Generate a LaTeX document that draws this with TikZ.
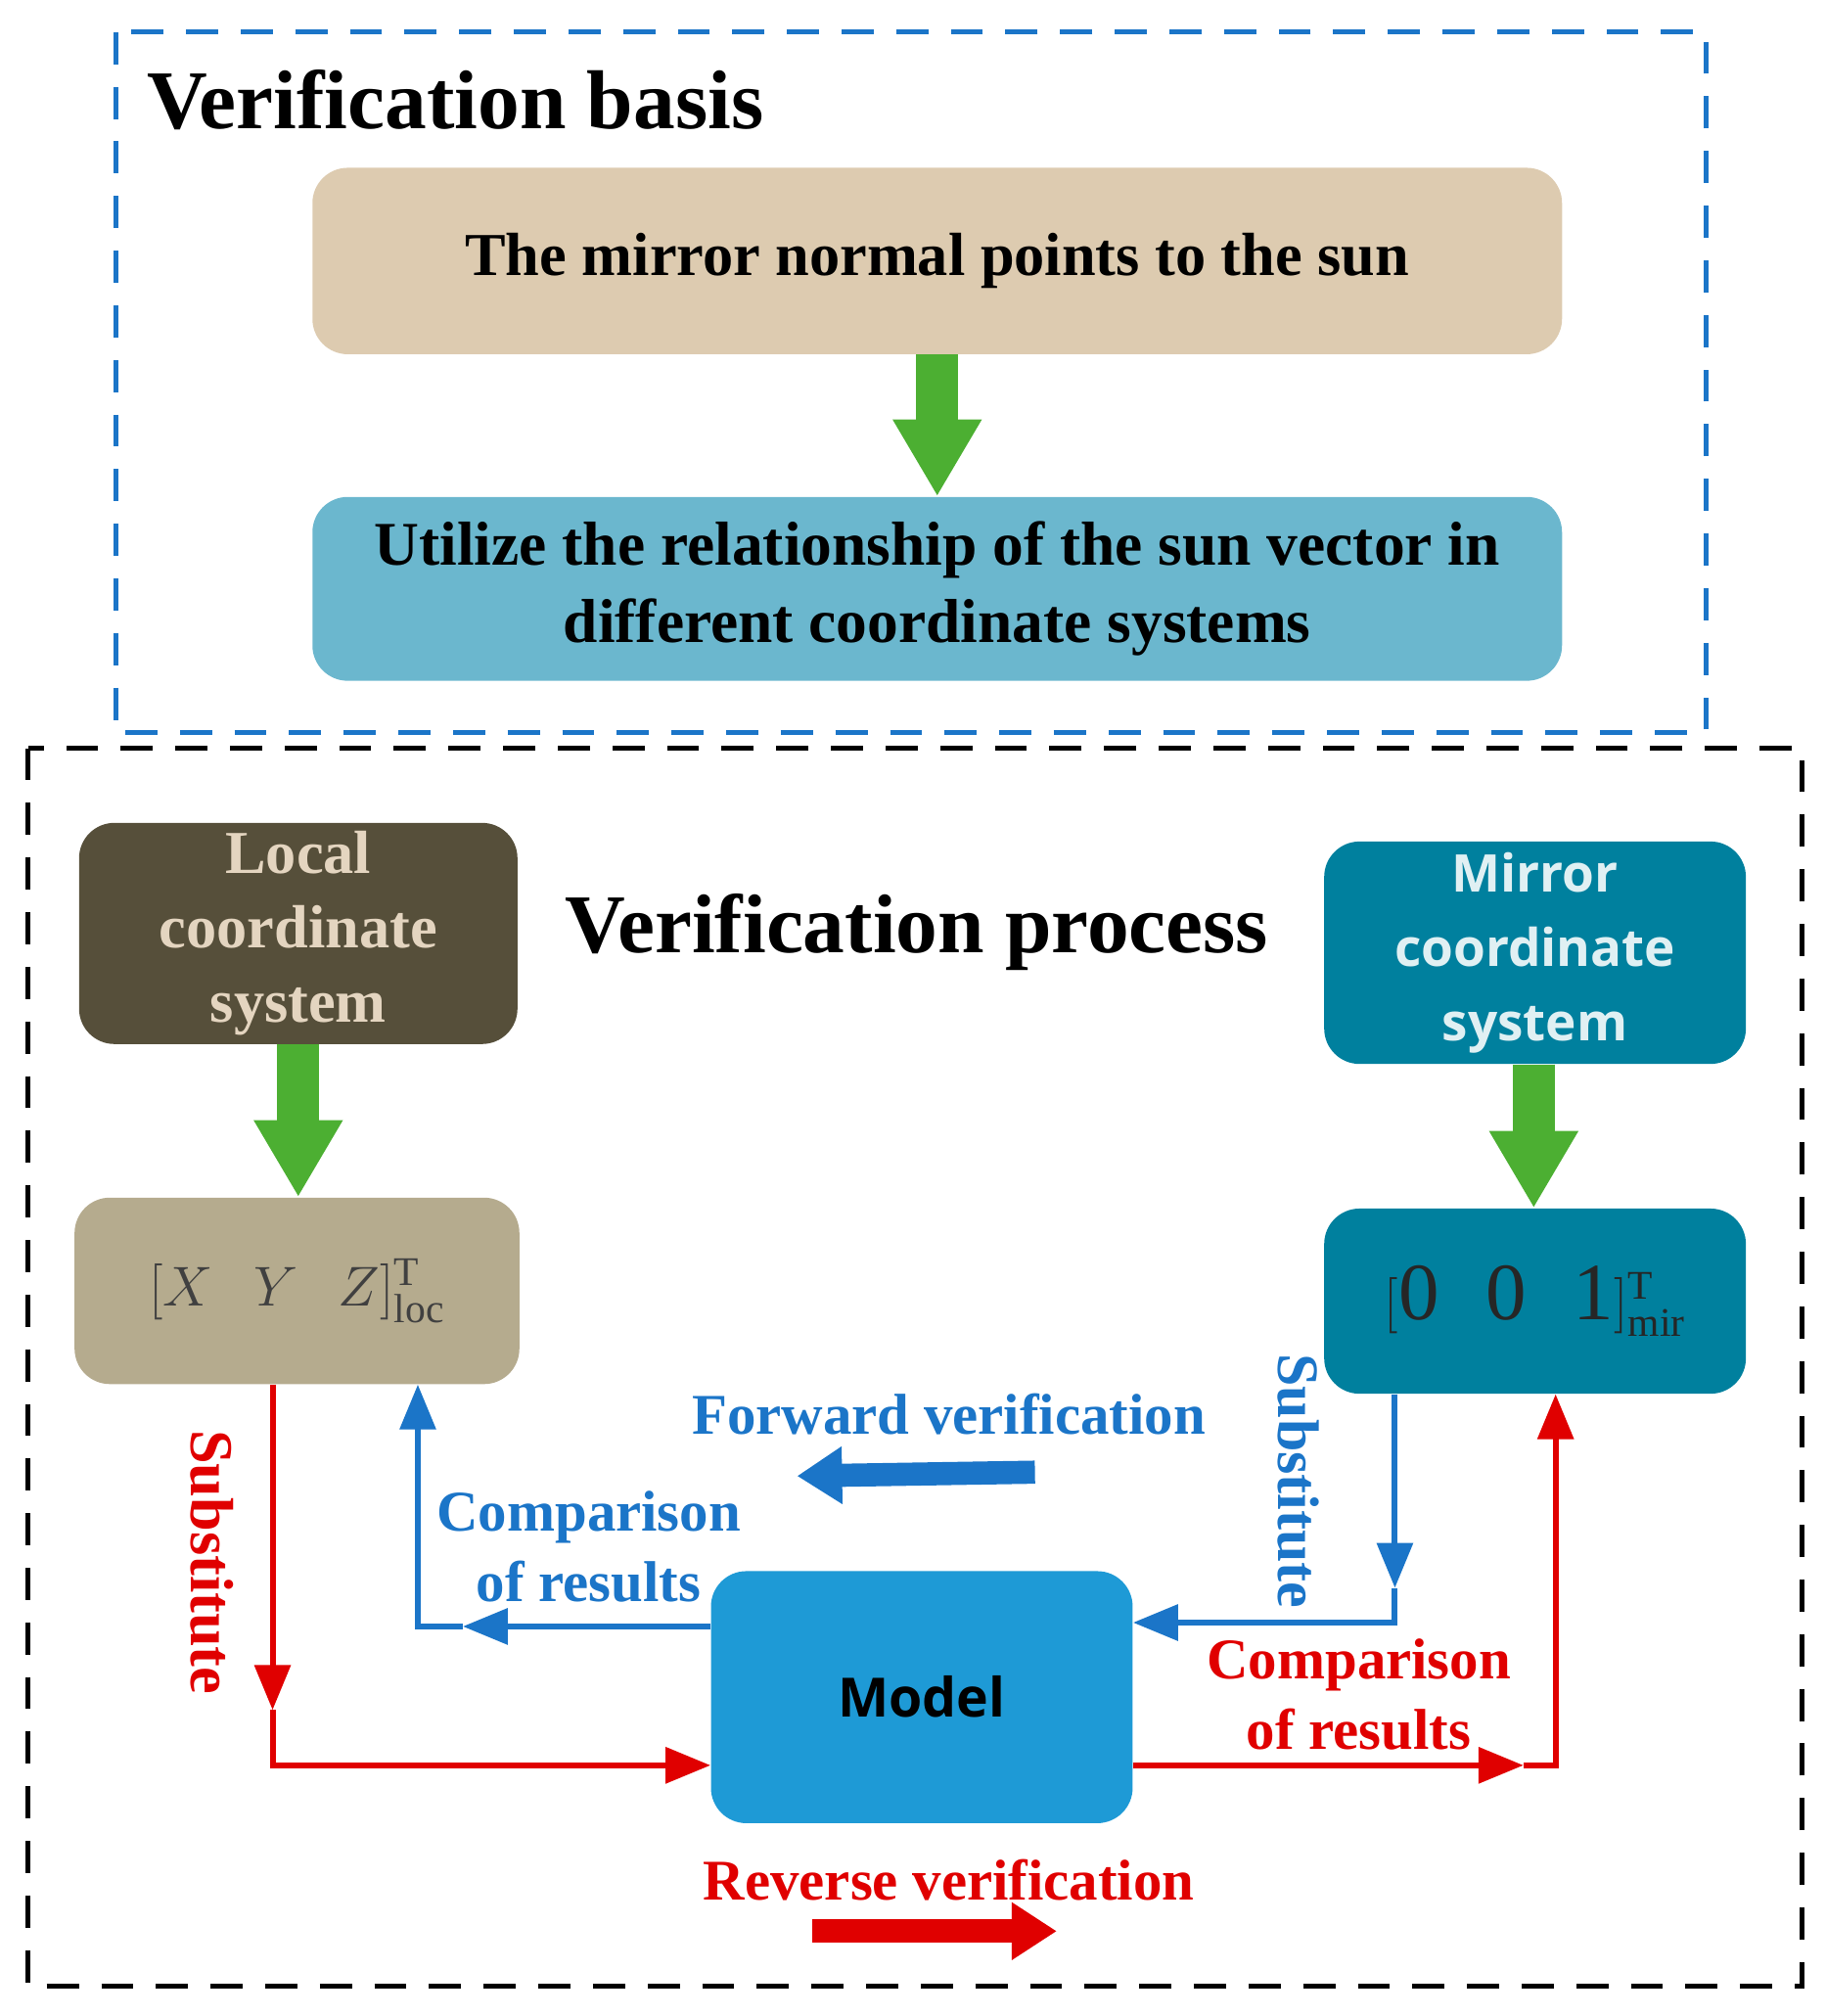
\documentclass[tikz,border=0pt]{standalone}
\usepackage{fontspec}
\setmainfont{Liberation Serif}
\newfontfamily\sansb{Open Sans}
\usetikzlibrary{arrows.meta}
\definecolor{gr}{HTML}{4CAF32}
\definecolor{rd}{HTML}{E00000}
\definecolor{bl}{HTML}{1B75C8}
\definecolor{tan1}{HTML}{DDCBB0}
\definecolor{lb}{HTML}{6BB7CE}
\definecolor{dk}{HTML}{564F3A}
\definecolor{tl}{HTML}{00809E}
\definecolor{xyz}{HTML}{B5AB8E}
\definecolor{md}{HTML}{1E9AD6}
\begin{document}
\begin{tikzpicture}[x=0.02cm,y=-0.02cm,
  box/.style={rounded corners=0.55cm,draw=none,inner sep=0pt,align=center},
  fat/.style={gr,line width=0.66cm,-{Triangle[length=1.2cm 0,width=1.3cm 0]}},
  ln/.style={line width=2.6pt},
  tip/.style={-{Triangle[length=0.7cm 0,width=0.55cm 0]}},
  lbl/.style={font=\fontsize{25.5}{31}\selectfont\bfseries,align=center},
  big/.style={line width=0.36cm,-{Triangle[length=0.7cm 0,width=0.85cm 0]}}]
\useasboundingbox (0,0) rectangle (1420,1568);
\draw[bl,line width=2.2pt,dash pattern=on 0.5cm off 0.35cm] (90,25) rectangle (1327,570);
\node[anchor=west,font=\fontsize{37}{40}\selectfont\bfseries] (t1) at (108,78) {Verification basis};
\node[box,fill=tan1,minimum width=972*0.02cm,minimum height=145*0.02cm,font=\fontsize{27}{34}\selectfont\bfseries] (b1) at (729,203) {The mirror normal points to the sun};
\node[box,fill=lb,minimum width=972*0.02cm,minimum height=143*0.02cm,font=\fontsize{27.5}{34}\selectfont\bfseries] (b2) at (729,458) {Utilize the relationship of the sun vector in\\different coordinate systems};
\draw[fat] (b1.south) -- (b2.north);

\draw[black,line width=2.2pt,dash pattern=on 0.5cm off 0.35cm] (22,582) rectangle (1402,1545);
\node[box,fill=dk,text=tan1!80!white,minimum width=341*0.02cm,minimum height=172*0.02cm,font=\fontsize{27}{33}\selectfont\bfseries] (loc) at (232,726) {Local\\coordinate\\system};
\node[font=\fontsize{37}{42}\selectfont\bfseries] (vp) at (713,725) {Verification process};
\node[box,fill=tl,text=white!88!tl,minimum width=328*0.02cm,minimum height=173*0.02cm,font=\sansb\fontsize{23}{33}\selectfont\bfseries] (mir) at (1194,741) {Mirror\\coordinate\\system};
\node[box,fill=xyz,text=black!75,minimum width=346*0.02cm,minimum height=145*0.02cm,font=\fontsize{36}{40}\selectfont] (xyz) at (231,1004) {$\Bigl[X\;\;\,Y\;\;\,Z\Bigr]^{\scriptscriptstyle\mathrm{T}}_{\scriptscriptstyle\mathrm{loc}}$};
\node[box,fill=tl,text=black!85,minimum width=328*0.02cm,minimum height=144*0.02cm,font=\fontsize{36}{40}\selectfont] (oo) at (1194,1012) {$\Bigl[\mathrm{0}\;\;\;\mathrm{0}\;\;\;\mathrm{1}\Bigr]^{\scriptscriptstyle\mathrm{T}}_{\scriptscriptstyle\mathrm{mir}}$};
\draw[fat] (loc.south -| 232,0) -- (xyz.north -| 232,0);
\draw[fat] (mir.south -| 1193,0) -- (oo.north -| 1193,0);
\node[box,fill=md,minimum width=328*0.02cm,minimum height=196*0.02cm,font=\sansb\fontsize{24}{30}\selectfont\bfseries] (mod) at (717,1320) {Model};

\coordinate (r1) at (212,1330);
\coordinate (r2) at (212,1373);
\draw[rd,ln,tip] (xyz.south -| r1) -- (r1);
\draw[rd,ln,tip] (r1) -- (r2) -- (mod.west |- r2);
\node[lbl,text=rd,rotate=-90,font=\fontsize{27}{31}\selectfont\bfseries] (s1) at (165,1215) {Substitute};
\coordinate (bl1) at (360,1265);
\coordinate (bl2) at (325,1265);
\draw[bl,ln,tip] (mod.west |- bl1) -- (bl1);
\draw[bl,ln,tip] (bl1) -- (bl2) -- (xyz.south -| bl2);
\node[lbl,text=bl] (c1) at (458,1203) {Comparison\\of results};
\coordinate (br1) at (1085,1235);
\coordinate (br2) at (1085,1262);
\draw[bl,ln,tip] (oo.south -| br1) -- (br1);
\draw[bl,ln,tip] (br1) -- (br2) -- (mod.east |- br2);
\node[lbl,text=bl,rotate=-90,font=\fontsize{26}{31}\selectfont\bfseries] (s2) at (1010,1152) {Substitute};
\coordinate (rr1) at (1185,1373);
\coordinate (rr2) at (1210,1373);
\draw[rd,ln,tip] (mod.east |- rr1) -- (rr1);
\draw[rd,ln,tip] (rr1) -- (rr2) -- (oo.south -| rr2);
\node[lbl,text=rd] (c2) at (1057,1318) {Comparison\\of results};

\node[lbl,text=bl] (fv) at (738,1100) {Forward verification};
\coordinate (f1) at (805,1145); \coordinate (f2) at (620,1148);
\draw[bl,big] (f1) -- (f2);
\node[lbl,text=rd] (rv) at (738,1462) {Reverse verification};
\coordinate (q1) at (632,1502); \coordinate (q2) at (822,1502);
\draw[rd,big] (q1) -- (q2);
\end{tikzpicture}
\end{document}
